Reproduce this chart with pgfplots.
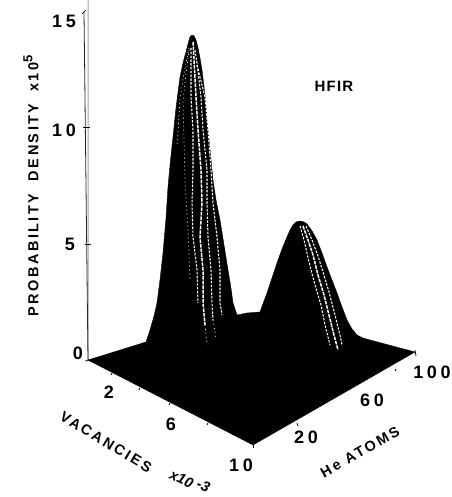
\documentclass[border=0pt]{standalone}
\usepackage{fontspec}
\setmainfont{Liberation Sans}
\usepackage{pgfplots}
\pgfplotsset{compat=1.18}
\pgfplotsset{
  stripe/.style={white,line width=1.5pt,dash pattern=on 3.6pt off 1pt},
  stripeb/.style={white,line width=1.05pt,dash pattern=on 2.4pt off 1.4pt},
  faint/.style={white,line width=0.7pt,dash pattern=on 1pt off 3pt},
  tickl/.style={black,line width=0.7pt},
}
\newcommand{\lab}[1]{\bfseries\fontsize{18}{18}\selectfont\addfontfeature{LetterSpace=20}#1}
\newcommand{\axl}[1]{\bfseries\fontsize{14.5}{14.5}\selectfont\addfontfeature{LetterSpace=17}#1}
\begin{document}
\begin{tikzpicture}
\useasboundingbox (0,0) rectangle (451pt,497pt);
\begin{axis}[
  scale only axis, width=451pt, height=497pt,
  xmin=0, xmax=451, ymin=0, ymax=497, y dir=reverse,
  hide axis, clip=false,
]
\addplot[draw=none,forget plot] coordinates {(0,0) (451,497)};
% surface silhouette and floor
\addplot[fill=black,draw=black,line width=0.4pt] coordinates {
(88,360) (130,347) (146,342) (150,330) (154,316) (157,303) (160,280) (163,253) (166,218) (168,187) (170,165) (173,137)
(176,108) (180,77) (183,63) (187,48) (189,40) (190,37) (192,35) (194,36) (196,40) (198,48) (200,58) (202,70) (205,95) (207,120) (210,150) (213,180)
(216,200) (220,220) (224,245) (228,270) (231,288) (233,303) (237,315) (247,313) (260,312) (264,301) (267,293) (272,278) (277,263)
(282,249) (287,237) (290,230) (293,225) (296,222) (300,221) (304,222) (307,224) (312,231) (317,240) (322,253) (327,267) (332,280) (337,293) (342,307) (347,320)
(352,329) (357,335) (363,338) (370,340) (415,352) (253,445) (88,360)} \closedcycle;
% stripes peak 1
\addplot[stripeb] coordinates {(191,48) (191,97) (193,130) (193,170) (192,203) (193,237) (197,270) (198,303)};
\addplot[stripe] coordinates {(193,42) (196,97) (198,130) (201,170) (202,203) (200,237) (203,270) (203,303) (205,325)};
\addplot[stripeb] coordinates {(195,50) (197,63) (201,97) (203,130) (207,170) (207,203) (208,237) (211,270) (212,303) (213,320)};
\addplot[stripeb] coordinates {(197,65) (205,97) (208,130) (211,170) (213,203) (217,237) (220,270) (220,303) (222,315)};
\addplot[faint] coordinates {(189,48) (184,73) (180,100) (178,130) (177,145)};
\addplot[faint] coordinates {(189,50) (186,75) (183,100) (185,180) (188,230) (190,280)};
\addplot[faint] coordinates {(205,325) (207,345)};
\addplot[faint] coordinates {(213,320) (216,338)};
% stripes peak 2
\addplot[stripeb] coordinates {(300,226) (304,240) (309,262) (315,285) (321,305) (325,325) (330,345)};
\addplot[stripe] coordinates {(303,226) (308,240) (313,255) (318,275) (324,295) (329,315) (334,335) (338,350)};
\addplot[stripeb] coordinates {(306,226) (312,240) (318,256) (323,272) (329,292) (335,315) (340,335) (342,345)};
% z axis and ticks
\addplot[black!85,line width=0.8pt] coordinates {(84,12) (88,360)};
\addplot[tickl] coordinates {(82,14) (86,10)};
\addplot[tickl] coordinates {(83,127) (90,127)};
\addplot[tickl] coordinates {(85,244) (91,244)};
\addplot[tickl] coordinates {(85,361) (91,360)};
% floor ticks
\addplot[tickl] coordinates {(112,373) (111,375)};
\addplot[tickl] coordinates {(140,388) (139,390)};
\addplot[tickl] coordinates {(170,403) (169,405)};
\addplot[tickl] coordinates {(208,423) (207,425)};
\addplot[tickl] coordinates {(253,444) (253,448)};
\addplot[tickl] coordinates {(297,423) (298,426)};
\addplot[tickl] coordinates {(340,392) (341,394)};
\addplot[tickl] coordinates {(395,369) (396,371)};
\addplot[tickl] coordinates {(415,350) (416,356)};
% labels
\tikzset{every node/.append style={inner sep=0pt}}
\node at (axis cs:64,21) {\lab{15}};
\node at (axis cs:64,130) {\lab{10}};
\node at (axis cs:70,244) {\lab{5}};
\node at (axis cs:78,353) {\lab{0}};
\node at (axis cs:109,392) {\lab{2}};
\node at (axis cs:171,424) {\lab{6}};
\node at (axis cs:241,465) {\lab{10}};
\node at (axis cs:306,437) {\lab{20}};
\node at (axis cs:372,400) {\lab{60}};
\node at (axis cs:432,372) {\lab{100}};
\node at (axis cs:334,86) {\bfseries\fontsize{15}{15}\selectfont\addfontfeature{LetterSpace=8}HFIR};
\node[rotate=90] at (axis cs:31,186) {\axl{PROBABILITY\hspace{6pt} DENSITY\hspace{5pt} x10\raisebox{6pt}{\fontsize{13}{13}\selectfont 5}}};
\node[rotate=-31] at (axis cs:106,442) {\axl{VACANCIES}};
\node[rotate=-25] at (axis cs:190,481) {\bfseries\itshape\fontsize{14.5}{14.5}\selectfont x10\raisebox{3pt}{ -3}};
\node[rotate=30] at (axis cs:360,452) {\axl{He ATOMS}};
\end{axis}
\end{tikzpicture}
\end{document}
